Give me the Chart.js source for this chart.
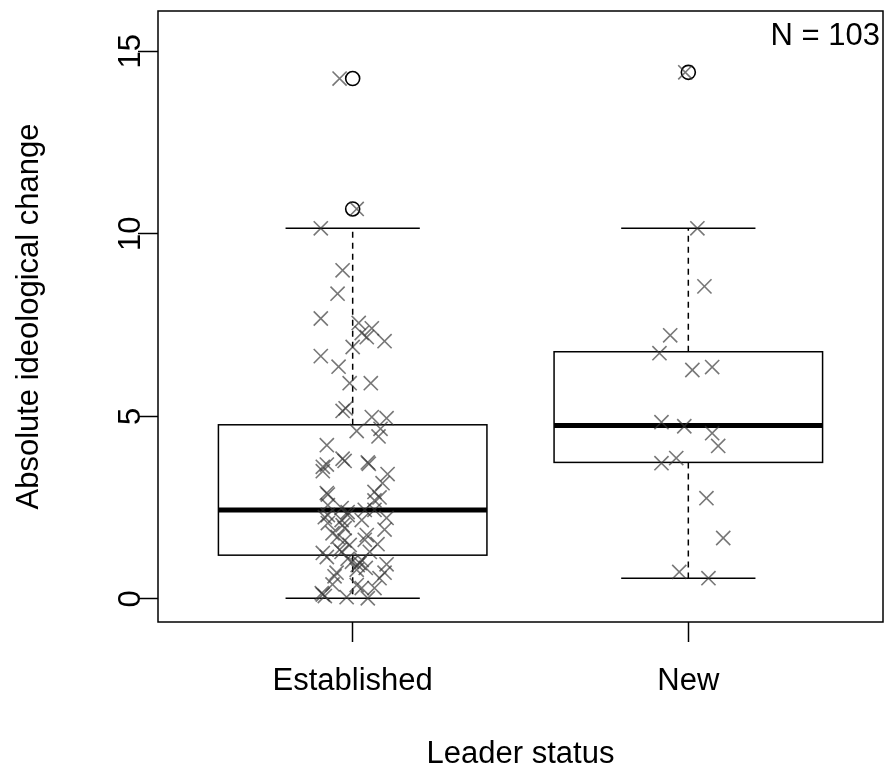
<!DOCTYPE html>
<html lang="en">
<head>
  <meta charset="UTF-8" />
  <title>Ideological change by leader status</title>
  <script src="https://cdn.jsdelivr.net/npm/chart.js@4.4.1/dist/chart.umd.min.js"></script>
  <style>
    html, body { margin: 0; padding: 0; background: #fff; }
    #wrap { width: 885px; height: 774px; }
  </style>
</head>
<body>
  <div id="wrap"><canvas id="chart" width="885" height="774"></canvas></div>

  <script>
    // --- data ---
    const categories = ['Established', 'New'];
    const yTicks = [0, 5, 10, 15];
    const sampleNote = 'N = 103';

    // jittered x position (1 = Established, 2 = New) and change value per leader
    const establishedX = [
      0.961, 1.012, 0.905, 0.970, 0.955, 0.905, 1.018, 1.057, 1.027, 1.042,
      1.095, 1.000, 0.905, 0.958, 0.991, 1.054, 0.979, 0.970, 1.057, 1.101,
      1.012, 1.083, 1.077, 0.923, 0.970, 0.976, 0.911, 0.923, 1.045, 1.048,
      1.104, 1.089, 0.926, 1.065, 1.080, 0.926, 0.967, 0.985, 1.065, 0.917,
      0.967, 1.101, 0.926, 1.027, 0.976, 1.095, 1.042, 0.955, 0.976, 1.036,
      0.991, 0.961, 1.051, 0.923, 0.911, 1.015, 1.027, 1.101, 0.946, 1.080,
      1.095, 1.027, 0.911, 0.917, 0.908, 0.982, 1.045, 1.012, 1.065, 1.012,
      0.952, 1.021, 0.967, 0.940, 0.970, 0.985, 0.926, 1.036, 1.065, 0.923,
      0.911, 0.998, 0.940, 0.985, 1.039, 1.074
    ];
    const establishedY = [
      14.25, 10.68, 10.15, 9.00, 8.36, 7.68, 7.56, 7.41, 7.28, 7.17,
      7.06, 6.90, 6.65, 6.36, 5.91, 5.91, 5.22, 5.15, 4.98, 4.95,
      4.60, 4.66, 4.45, 4.21, 3.84, 3.78, 3.62, 3.68, 3.74, 3.70,
      3.42, 3.17, 2.86, 2.93, 2.78, 2.57, 2.49, 2.38, 2.44, 2.24,
      2.16, 2.22, 2.08, 2.16, 1.94, 1.90, 1.75, 1.70, 1.60, 1.62,
      1.48, 1.35, 1.29, 1.15, 1.26, 0.93, 1.07, 0.95, 0.62, 0.57,
      0.72, 0.30, 0.12, 0.08, 0.16, 0.05, 0.02, 0.38, 0.30, 0.80,
      0.72, 0.98, 1.29, 1.80, 2.02, 2.30, 2.30, 2.44, 2.70, 2.90,
      3.50, 1.02, 0.40, 1.10, 0.85, 1.50
    ];
    const newX = [
      1.991, 2.027, 2.048, 1.946, 1.914, 2.012, 2.071, 1.920, 1.988,
      2.071, 2.089, 1.920, 1.964, 2.054, 2.104, 1.973, 2.060
    ];
    const newY = [
      14.42, 10.15, 8.56, 7.22, 6.73, 6.27, 6.35, 4.84, 4.73,
      4.54, 4.19, 3.72, 3.86, 2.76, 1.67, 0.74, 0.57
    ];

    // box statistics: lower whisker, Q1, median, Q3, upper whisker
    const establishedBox = [0.02, 1.20, 2.44, 4.77, 10.15];
    const newBox = [0.57, 3.74, 4.75, 6.77, 10.15];
    const establishedOutliers = [10.68, 14.25];
    const newOutliers = [14.42];

    const FONT = '"Liberation Sans", Arial, Helvetica, sans-serif';
    const FONT_SIZE = 31;
    const CROSS = 'rgba(55,55,55,0.68)';

    const toPoints = (xs, ys) => xs.map((x, i) => ({ x: x, y: ys[i] }));

    // boxes, whiskers and medians, drawn underneath the points
    const boxPlugin = {
      id: 'boxes',
      beforeDatasetsDraw(chart) {
        const { ctx, scales: { x, y } } = chart;
        ctx.save();
        ctx.strokeStyle = '#000';
        [establishedBox, newBox].forEach((s, i) => {
          const c = i + 1;
          const [lo, q1, med, q3, hi] = s;
          const cx = x.getPixelForValue(c);
          const bl = x.getPixelForValue(c - 0.4), br = x.getPixelForValue(c + 0.4);
          const sl = x.getPixelForValue(c - 0.2), sr = x.getPixelForValue(c + 0.2);

          ctx.lineWidth = 1.5;
          ctx.setLineDash([6, 5]);
          ctx.beginPath();
          ctx.moveTo(cx, y.getPixelForValue(q3));
          ctx.lineTo(cx, y.getPixelForValue(hi));
          ctx.moveTo(cx, y.getPixelForValue(q1));
          ctx.lineTo(cx, y.getPixelForValue(lo));
          ctx.stroke();

          ctx.setLineDash([]);
          ctx.beginPath();
          ctx.moveTo(sl, y.getPixelForValue(hi));
          ctx.lineTo(sr, y.getPixelForValue(hi));
          ctx.moveTo(sl, y.getPixelForValue(lo));
          ctx.lineTo(sr, y.getPixelForValue(lo));
          ctx.stroke();

          const top = y.getPixelForValue(q3), bot = y.getPixelForValue(q1);
          ctx.strokeRect(bl, top, br - bl, bot - top);

          ctx.lineWidth = 5;
          ctx.beginPath();
          ctx.moveTo(bl, y.getPixelForValue(med));
          ctx.lineTo(br, y.getPixelForValue(med));
          ctx.stroke();
        });
        ctx.restore();
      }
    };

    // plot frame, rotated y tick labels and the sample size note
    const framePlugin = {
      id: 'frame',
      afterDraw(chart) {
        const { ctx, chartArea: a, scales: { y } } = chart;
        ctx.save();
        ctx.strokeStyle = '#000';
        ctx.lineWidth = 1.5;
        ctx.strokeRect(a.left, a.top, a.right - a.left, a.bottom - a.top);

        ctx.fillStyle = '#000';
        ctx.font = FONT_SIZE + 'px ' + FONT;
        ctx.textAlign = 'center';
        ctx.textBaseline = 'alphabetic';
        yTicks.forEach(v => {
          ctx.save();
          ctx.translate(a.left - 20, y.getPixelForValue(v));
          ctx.rotate(-Math.PI / 2);
          ctx.fillText(String(v), 0, 2);
          ctx.restore();
        });

        ctx.textAlign = 'right';
        ctx.fillText(sampleNote, a.right - 3, a.top + 34);
        ctx.restore();
      }
    };

    const tickFont = { family: FONT, size: FONT_SIZE };

    new Chart(document.getElementById('chart'), {
      type: 'scatter',
      data: {
        datasets: [
          {
            label: 'Established',
            data: toPoints(establishedX, establishedY),
            pointStyle: 'crossRot',
            pointRadius: 10,
            pointBorderWidth: 1.6,
            borderColor: CROSS
          },
          {
            label: 'New',
            data: toPoints(newX, newY),
            pointStyle: 'crossRot',
            pointRadius: 10,
            pointBorderWidth: 1.6,
            borderColor: CROSS
          },
          {
            label: 'Outliers',
            data: [
              ...establishedOutliers.map(v => ({ x: 1, y: v })),
              ...newOutliers.map(v => ({ x: 2, y: v }))
            ],
            pointStyle: 'circle',
            pointRadius: 7,
            pointBorderWidth: 1.6,
            borderColor: '#000',
            backgroundColor: 'rgba(0,0,0,0)'
          }
        ]
      },
      options: {
        responsive: false,
        animation: false,
        layout: { autoPadding: false, padding: { top: 11, right: 2, left: 0, bottom: 0 } },
        plugins: {
          legend: { display: false },
          tooltip: { enabled: false }
        },
        scales: {
          x: {
            type: 'linear',
            min: 0.42,
            max: 2.58,
            border: { display: false },
            grid: {
              drawOnChartArea: false,
              tickLength: 20,
              tickWidth: 1.5,
              tickColor: '#000'
            },
            afterBuildTicks: s => { s.ticks = [1, 2].map(v => ({ value: v })); },
            afterFit: s => { s.height = 152; s.paddingLeft = 0; s.paddingRight = 0; },
            ticks: {
              color: '#000',
              font: tickFont,
              padding: 21,
              maxRotation: 0,
              callback: v => categories[v - 1]
            },
            title: {
              display: true,
              text: 'Leader status',
              color: '#000',
              font: tickFont,
              padding: { bottom: 1 }
            }
          },
          y: {
            type: 'linear',
            min: -0.63,
            max: 16.1,
            border: { display: false },
            grid: {
              drawOnChartArea: false,
              tickLength: 20,
              tickWidth: 1.5,
              tickColor: '#000'
            },
            afterBuildTicks: s => { s.ticks = yTicks.map(v => ({ value: v })); },
            afterFit: s => { s.width = 158; s.paddingTop = 0; s.paddingBottom = 0; },
            ticks: { display: false },
            title: {
              display: true,
              text: 'Absolute ideological change',
              color: '#000',
              font: tickFont,
              padding: { top: 11 }
            }
          }
        }
      },
      plugins: [boxPlugin, framePlugin]
    });
  </script>
</body>
</html>
